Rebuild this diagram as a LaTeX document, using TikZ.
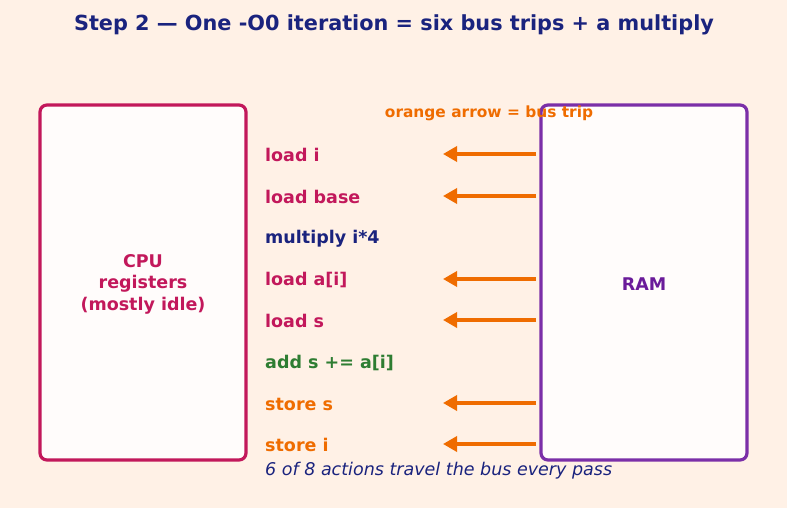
\documentclass[tikz,border=0pt]{standalone}
\usepackage{fontspec}
\setmainfont{DejaVu Sans}
\usetikzlibrary{arrows.meta}
\definecolor{bg}{HTML}{FFF1E6}
\definecolor{boxfill}{HTML}{FFFCFB}
\definecolor{navy}{HTML}{1A237E}
\definecolor{crim}{HTML}{C2185B}
\definecolor{grn}{HTML}{2E7D32}
\definecolor{orng}{HTML}{EF6C00}
\definecolor{purp}{HTML}{6A1B9A}
\definecolor{purpline}{HTML}{7B2FA8}
\tikzset{
  unitbox/.style={rounded corners=7pt, line width=3.2pt, fill=boxfill},
  oplabel/.style={anchor=west, font=\bfseries\fontsize{17.5}{21}\selectfont, inner sep=0pt},
  bustrip/.style={draw=orng, line width=3.4pt, -{Triangle[length=14pt,width=15pt]}},
}
\begin{document}
\begin{tikzpicture}[x=1pt,y=-1pt]
\fill[bg] (0,0) rectangle (787,508);
\useasboundingbox (0,0) rectangle (787,508);
\node[font=\bfseries\fontsize{20.8}{25}\selectfont, text=navy] (title) at (394,24.5) {Step 2 — One -O0 iteration = six bus trips + a multiply};
\draw[unitbox, draw=crim] (40,105) rectangle (246,460);
\node[align=center, text=crim, font=\bfseries\fontsize{17.5}{21.5}\selectfont] (cpu) at (143,284) {CPU\\registers\\(mostly idle)};
\draw[unitbox, draw=purpline] (541,105) rectangle (747,460);
\node[text=purp, font=\bfseries\fontsize{17.5}{21}\selectfont] (ram) at (644,284) {RAM};
\node[text=orng, font=\bfseries\fontsize{15.4}{18}\selectfont] (legend) at (489,113) {orange arrow = bus trip};
\node[oplabel, text=crim] (l1) at (265,155) {load i};
\node[oplabel, text=crim] (l2) at (265,197) {load base};
\node[oplabel, text=navy] (l3) at (265,239) {multiply i*4};
\node[oplabel, text=crim] (l4) at (265,280) {load a[i]};
\node[oplabel, text=crim] (l5) at (265,321) {load s};
\node[oplabel, text=grn] (l6) at (265,363) {add s += a[i]};
\node[oplabel, text=orng] (l7) at (265,404) {store s};
\node[oplabel, text=orng] (l8) at (265,445) {store i};
\foreach \n/\y in {1/154,2/196,4/279,5/320,7/403,8/444}{
  \coordinate (s\n) at (536,\y);
  \coordinate (e\n) at (443,\y);
  \draw[bustrip] (s\n) -- (e\n);
}
\node[anchor=west, inner sep=0pt, text=navy, font=\itshape\fontsize{17.5}{21}\selectfont] (caption) at (265,471) {6 of 8 actions travel the bus every pass};
\end{tikzpicture}
\end{document}
